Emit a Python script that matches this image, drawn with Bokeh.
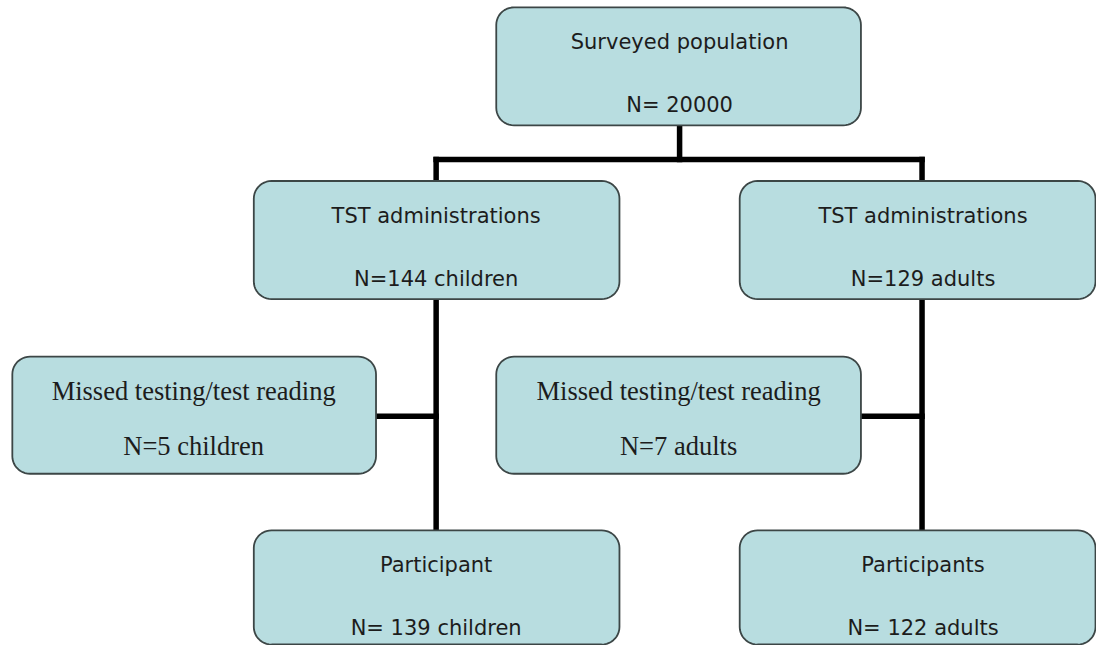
import numpy as np
from bokeh.plotting import figure
from bokeh.models import Range1d, ColumnDataSource
from bokeh.core.properties import value
from bokeh.embed import file_html
from bokeh.resources import INLINE

# ---- chart content ----
box_titles = ["Surveyed population", "TST administrations", "TST administrations",
              "Missed testing/test reading", "Missed testing/test reading",
              "Participant", "Participants"]
box_counts = ["N= 20000", "N=144 children", "N=129 adults",
              "N=5 children", "N=7 adults",
              "N= 139 children", "N= 122 adults"]
box_style = ["sans", "sans", "sans", "serif", "serif", "sans", "sans"]

# ---- layout (reference pixel coordinates) ----
box_left = [503, 257, 750, 12, 503, 257, 750]
box_right = [873, 628, 1111, 381, 873, 628, 1111]
box_top = [7, 185, 185, 365, 365, 543, 543]
box_bottom = [128, 306, 306, 485, 485, 660, 660]
text_cx = [689, 442, 936, 196, 688, 442, 936]

# connectors: (x0, y0, x1, y1)
conn_x0 = [689, 442, 442, 935, 442, 381, 935, 873]
conn_y0 = [128, 163, 163, 163, 306, 426, 306, 426]
conn_x1 = [689, 935, 442, 935, 442, 442, 935, 935]
conn_y1 = [163, 163, 185, 185, 543, 426, 543, 426]

FILL = "#b8dde0"
EDGE = "#3c4646"
RADIUS = 18


def rounded_rect(l, r, t, b, rad):
    xs, ys = [], []
    corners = [(r - rad, t + rad, -90, 0), (r - rad, b - rad, 0, 90),
               (l + rad, b - rad, 90, 180), (l + rad, t + rad, 180, 270)]
    for cx, cy, a0, a1 in corners:
        ang = np.radians(np.linspace(a0, a1, 12))
        xs.extend(cx + rad * np.cos(ang))
        ys.extend(cy + rad * np.sin(ang))
    return xs, ys


p = figure(width=1096, height=645, output_backend="svg", toolbar_location=None,
           x_range=Range1d(0, 1112), y_range=Range1d(661, 0),
           x_axis_type=None, y_axis_type=None, min_border=0,
           min_border_left=0, min_border_right=0, min_border_top=0, min_border_bottom=0)
p.outline_line_color = None
p.background_fill_color = "white"
p.border_fill_color = "white"
p.xgrid.visible = False
p.ygrid.visible = False

# connectors
p.segment(x0=conn_x0, y0=conn_y0, x1=conn_x1, y1=conn_y1,
          line_color="black", line_width=5.5, line_cap="square")

# boxes
pxs, pys = [], []
for l, r, t, b in zip(box_left, box_right, box_top, box_bottom):
    xs, ys = rounded_rect(l, r, t, b, RADIUS)
    pxs.append(xs)
    pys.append(ys)
p.patches(pxs, pys, fill_color=FILL, line_color=EDGE, line_width=1.8)

# texts
for style, font, size, off1, off2 in [("sans", "DejaVu Sans", "21px", 36, 100),
                                      ("serif", "Liberation Serif", "26.5px", 35, 92)]:
    idx = [i for i, s in enumerate(box_style) if s == style]
    cx = [text_cx[i] for i in idx]
    src = ColumnDataSource(dict(
        x=cx + cx,
        y=[box_top[i] + off1 for i in idx] + [box_top[i] + off2 for i in idx],
        t=[box_titles[i] for i in idx] + [box_counts[i] for i in idx],
    ))
    p.text(x="x", y="y", text="t", source=src, text_align="center",
           text_baseline="alphabetic", text_font=value(font),
           text_font_size=size, text_color="#1c1c1c")

open("out.html", "w").write(file_html(p, INLINE))
